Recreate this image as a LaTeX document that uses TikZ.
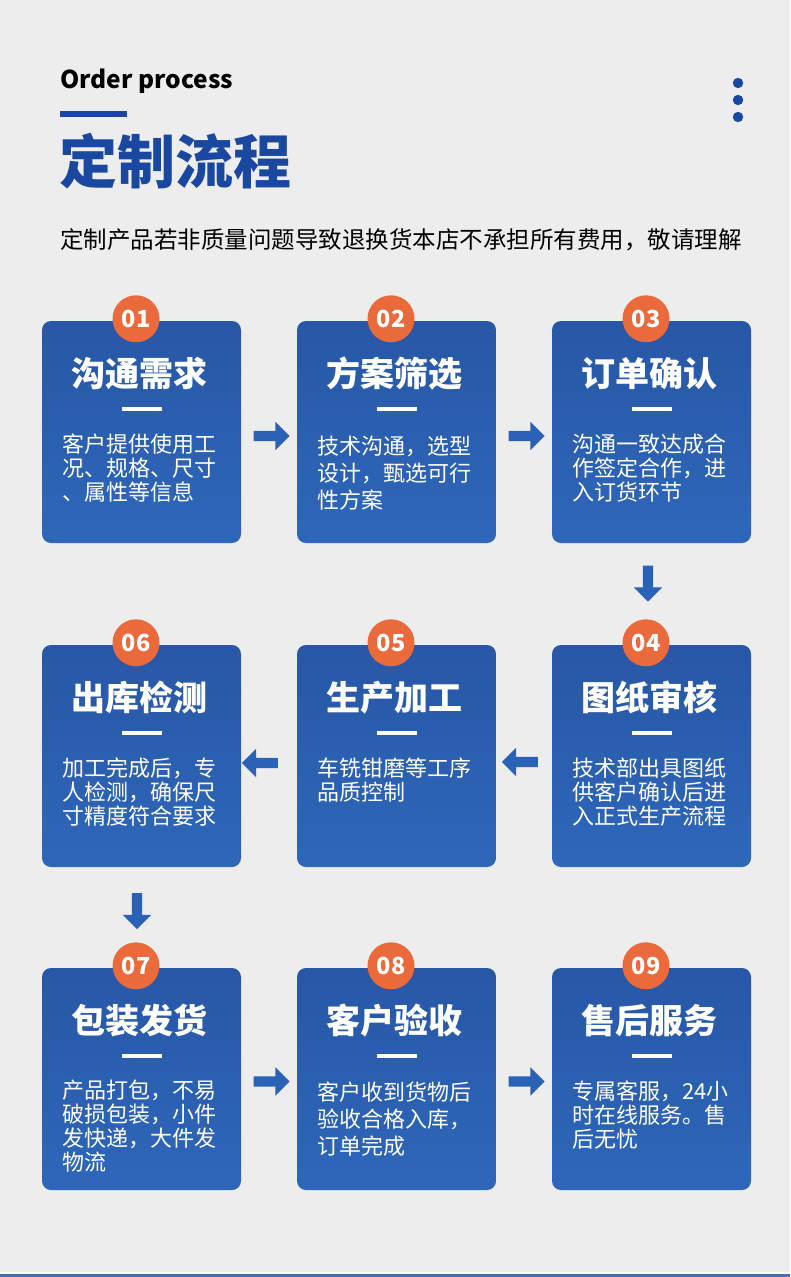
\documentclass[tikz,border=0pt]{standalone}
\usepackage{fontspec}
\setmainfont{Noto Sans CJK SC}
\newfontfamily\heavyfont{Noto Sans CJK SC Black}
\usetikzlibrary{positioning,calc,shapes.arrows}

\definecolor{pagebg}{HTML}{EDEDED}
\definecolor{titleblue}{HTML}{1A48A0}
\definecolor{cardtop}{HTML}{2857A6}
\definecolor{cardbot}{HTML}{2E67BA}
\definecolor{badgeorange}{HTML}{EB6A3B}
\definecolor{arrowblue}{HTML}{2A62B6}

\tikzset{
  card/.style={rectangle, rounded corners=9pt, minimum width=199pt, minimum height=222pt, top color=cardtop, bottom color=cardbot, draw=none},
  badge/.style={circle, fill=badgeorange, minimum size=47pt, inner sep=0pt, text=white, font=\bfseries\fontsize{23.5}{23.5}\selectfont},
  cardtitle/.style={text=white, inner sep=0pt, font=\bfseries\fontsize{34}{34}\selectfont},
  carddesc/.style={text=white, align=left, inner sep=0pt, anchor=north west, font=\fontsize{22}{24}\selectfont},
  widedesc/.style={carddesc, font=\fontsize{22}{27}\selectfont},
  dashline/.style={white, line width=3.5pt},
  flowarrow/.style={single arrow, fill=arrowblue, draw=none, minimum height=36pt, inner sep=5pt, single arrow head extend=9pt},
}

\begin{document}
\begin{tikzpicture}[x=1pt, y=-1pt]
    % Page
    \useasboundingbox (0,0) rectangle (790,1277);
    \fill[pagebg] (0,0) rectangle (790,1277);
    \fill[white] (0,1272) rectangle (790,1274);
    \fill[titleblue!80] (0,1274) rectangle (790,1277);

    % Header
    \node[anchor=base west, inner sep=0pt, font=\bfseries\fontsize{24.5}{24.5}\selectfont] (entitle) at (60,88) {Order process};
    \fill[titleblue] (60,111) rectangle (127,117);
    \node[anchor=west, inner sep=0pt, text=titleblue, font=\heavyfont\fontsize{58}{58}\selectfont] (cntitle) at (59,161) {定制流程};
    \node[anchor=west, inner sep=0pt, font=\fontsize{23.5}{23.5}\selectfont] (notice) at (60,240) {定制产品若非质量问题导致退换货本店不承担所有费用，敬请理解};
    \fill[titleblue] (738,83) circle (5.2) (738,100) circle (5.2) (738,117) circle (5.2);

    % Cards
    \node[card] (c01) at (141.5,432) {};
    \node[card] (c02) at (396.5,432) {};
    \node[card] (c03) at (651.5,432) {};
    \node[card] (c06) at (141.5,756) {};
    \node[card] (c05) at (396.5,756) {};
    \node[card] (c04) at (651.5,756) {};
    \node[card] (c07) at (141.5,1079) {};
    \node[card] (c08) at (396.5,1079) {};
    \node[card] (c09) at (651.5,1079) {};

    % Badges
    \node[badge] (b01) at ([xshift=-5.5pt, yshift=2pt]c01.north) {01};
    \node[badge] (b02) at ([xshift=-5.5pt, yshift=2pt]c02.north) {02};
    \node[badge] (b03) at ([xshift=-5.5pt, yshift=2pt]c03.north) {03};
    \node[badge] (b04) at ([xshift=-5.5pt, yshift=2pt]c04.north) {04};
    \node[badge] (b05) at ([xshift=-5.5pt, yshift=2pt]c05.north) {05};
    \node[badge] (b06) at ([xshift=-5.5pt, yshift=2pt]c06.north) {06};
    \node[badge] (b07) at ([xshift=-5.5pt, yshift=2pt]c07.north) {07};
    \node[badge] (b08) at ([xshift=-5.5pt, yshift=2pt]c08.north) {08};
    \node[badge] (b09) at ([xshift=-5.5pt, yshift=2pt]c09.north) {09};

    % Titles
    \node[cardtitle] (t01) at ([xshift=-2.5pt, yshift=-53pt]c01.north) {沟通需求};
    \node[cardtitle] (t02) at ([xshift=-2.5pt, yshift=-53pt]c02.north) {方案筛选};
    \node[cardtitle] (t03) at ([xshift=-2.5pt, yshift=-53pt]c03.north) {订单确认};
    \node[cardtitle] (t04) at ([xshift=-2.5pt, yshift=-53pt]c04.north) {图纸审核};
    \node[cardtitle] (t05) at ([xshift=-2.5pt, yshift=-53pt]c05.north) {生产加工};
    \node[cardtitle] (t06) at ([xshift=-2.5pt, yshift=-53pt]c06.north) {出库检测};
    \node[cardtitle] (t07) at ([xshift=-2.5pt, yshift=-53pt]c07.north) {包装发货};
    \node[cardtitle] (t08) at ([xshift=-2.5pt, yshift=-53pt]c08.north) {客户验收};
    \node[cardtitle] (t09) at ([xshift=-2.5pt, yshift=-53pt]c09.north) {售后服务};

    % Dashes
    \draw[dashline] ([xshift=-20pt, yshift=-88pt]c01.north) -- ([xshift=20pt, yshift=-88pt]c01.north);
    \draw[dashline] ([xshift=-20pt, yshift=-88pt]c02.north) -- ([xshift=20pt, yshift=-88pt]c02.north);
    \draw[dashline] ([xshift=-20pt, yshift=-88pt]c03.north) -- ([xshift=20pt, yshift=-88pt]c03.north);
    \draw[dashline] ([xshift=-20pt, yshift=-88pt]c04.north) -- ([xshift=20pt, yshift=-88pt]c04.north);
    \draw[dashline] ([xshift=-20pt, yshift=-88pt]c05.north) -- ([xshift=20pt, yshift=-88pt]c05.north);
    \draw[dashline] ([xshift=-20pt, yshift=-88pt]c06.north) -- ([xshift=20pt, yshift=-88pt]c06.north);
    \draw[dashline] ([xshift=-20pt, yshift=-88pt]c07.north) -- ([xshift=20pt, yshift=-88pt]c07.north);
    \draw[dashline] ([xshift=-20pt, yshift=-88pt]c08.north) -- ([xshift=20pt, yshift=-88pt]c08.north);
    \draw[dashline] ([xshift=-20pt, yshift=-88pt]c09.north) -- ([xshift=20pt, yshift=-88pt]c09.north);

    % Descriptions
    \node[carddesc] (d01) at ([xshift=20pt, yshift=-113pt]c01.north west) {客户提供使用工\\况、规格、尺寸\\、属性等信息};
    \node[widedesc] (d02) at ([xshift=20pt, yshift=-115pt]c02.north west) {技术沟通，选型\\设计，甄选可行\\性方案};
    \node[carddesc] (d03) at ([xshift=20pt, yshift=-113pt]c03.north west) {沟通一致达成合\\作签定合作，进\\入订货环节};
    \node[carddesc] (d04) at ([xshift=20pt, yshift=-113pt]c04.north west) {技术部出具图纸\\供客户确认后进\\入正式生产流程};
    \node[carddesc] (d05) at ([xshift=20pt, yshift=-113pt]c05.north west) {车铣钳磨等工序\\品质控制};
    \node[carddesc] (d06) at ([xshift=20pt, yshift=-113pt]c06.north west) {加工完成后，专\\人检测，确保尺\\寸精度符合要求};
    \node[carddesc] (d07) at ([xshift=20pt, yshift=-112pt]c07.north west) {产品打包，不易\\破损包装，小件\\发快递，大件发\\物流};
    \node[widedesc] (d08) at ([xshift=20pt, yshift=-114pt]c08.north west) {客户收到货物后\\验收合格入库，\\订单完成};
    \node[carddesc] (d09) at ([xshift=20pt, yshift=-113pt]c09.north west) {专属客服，24小\\时在线服务。售\\后无忧};

    % Flow arrows
    \node[flowarrow] (a12) at ([yshift=-4pt]$(c01.east)!0.5!(c02.west)$) {};
    \node[flowarrow] (a23) at ([yshift=-4pt]$(c02.east)!0.5!(c03.west)$) {};
    \node[flowarrow, shape border rotate=270] (a34) at ([xshift=-3.5pt, yshift=13pt]$(c03.south)!0.5!(c04.north)$) {};
    \node[flowarrow, shape border rotate=180] (a45) at ([xshift=-1.5pt, yshift=-6pt]$(c04.west)!0.5!(c05.east)$) {};
    \node[flowarrow, shape border rotate=180] (a56) at ([xshift=-6.5pt, yshift=-7pt]$(c05.west)!0.5!(c06.east)$) {};
    \node[flowarrow, shape border rotate=270] (a67) at ([xshift=-4.5pt, yshift=9pt]$(c06.south)!0.5!(c07.north)$) {};
    \node[flowarrow] (a78) at ([yshift=-2.5pt]$(c07.east)!0.5!(c08.west)$) {};
    \node[flowarrow] (a89) at ([yshift=-2.5pt]$(c08.east)!0.5!(c09.west)$) {};
\end{tikzpicture}
\end{document}
